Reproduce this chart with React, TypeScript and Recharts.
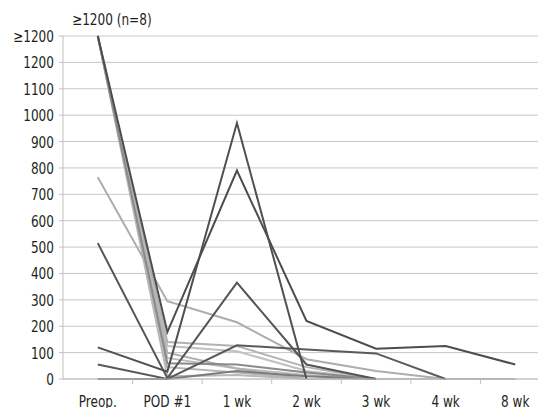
import React from 'react';
import { LineChart, Line, XAxis, YAxis, CartesianGrid } from 'recharts';

const categories = ['Preop.', 'POD #1', '1 wk', '2 wk', '3 wk', '4 wk', '8 wk'];
const yTicks = [0, 100, 200, 300, 400, 500, 600, 700, 800, 900, 1000, 1100, 1200, 1300];

// 1300 on the axis stands for the "≥1200" band
const s1 = [1300, 178, 790, 220, 115, 125, 55];
const s2 = [120, 28, 970, 0, null, null, null];
const s3 = [515, 3, 365, 55, 0, null, null];
const s4 = [765, 295, 215, 75, 30, 0, 0];
const s5 = [1300, 140, 125, 45, 0, null, null];
const s6 = [1300, 125, 105, 30, 0, null, null];
const s7 = [1300, 100, 40, 0, null, null, null];
const s8 = [55, 0, 128, 112, 97, 0, null];
const s9 = [1300, 60, 55, 25, 0, null, null];
const s10 = [1300, 45, 25, 0, null, null, null];
const s11 = [1300, 10, 15, 0, 0, 0, 0];
const s12 = [0, 0, 30, 10, 0, null, null];
const s13 = [1300, 80, 40, 15, 0, null, null];

const seriesList: { key: string; values: (number | null)[]; color: string }[] = [
  { key: 's11', values: s11, color: '#b8b8b8' },
  { key: 's10', values: s10, color: '#b4b4b4' },
  { key: 's13', values: s13, color: '#bdbdbd' },
  { key: 's7', values: s7, color: '#b0b0b0' },
  { key: 's6', values: s6, color: '#c0c0c0' },
  { key: 's5', values: s5, color: '#b2b2b2' },
  { key: 's4', values: s4, color: '#adadad' },
  { key: 's12', values: s12, color: '#7c7c7c' },
  { key: 's9', values: s9, color: '#8a8a8a' },
  { key: 's8', values: s8, color: '#5a5a5a' },
  { key: 's3', values: s3, color: '#555555' },
  { key: 's2', values: s2, color: '#505050' },
  { key: 's1', values: s1, color: '#4d4d4d' },
];

const data = categories.map((label, i) => {
  const row: Record<string, any> = { pos: i + 0.5, label };
  seriesList.forEach((s) => {
    row[s.key] = s.values[i];
  });
  return row;
});

const xTicks: number[] = [];
for (let i = 0; i <= categories.length * 2; i++) xTicks.push(i / 2);

const FONT = "'DejaVu Sans Condensed', 'DejaVu Sans', sans-serif";
const FS = 16;
const SX = 0.84;
const TEXT = '#231f20';

const XTick = (props: any) => {
  const { x, y, payload } = props;
  const v = payload.value as number;
  if (Number.isInteger(v)) {
    if (v === 0 || v === categories.length) return <g />;
    return <line x1={x} x2={x} y1={y} y2={y + 5} stroke="#c0c0c0" strokeWidth={1} />;
  }
  return (
    <text
      transform={`translate(${x},${y + 28}) scale(${SX},1)`}
      textAnchor="middle"
      fontFamily={FONT}
      fontSize={FS}
      fill={TEXT}
    >
      {categories[Math.floor(v)]}
    </text>
  );
};

const YTick = (props: any) => {
  const { x, y, payload } = props;
  const v = payload.value as number;
  return (
    <text
      transform={`translate(${x},${y + 6}) scale(${SX},1)`}
      textAnchor="end"
      fontFamily={FONT}
      fontSize={FS}
      fill={TEXT}
    >
      {v === 1300 ? '≥1200' : String(v)}
    </text>
  );
};

export default function App() {
  return (
    <div style={{ position: 'relative', width: 538, height: 408, overflow: 'hidden', marginBottom: -8 }}>
      <div
        style={{
          position: 'absolute',
          left: 64,
          top: 2,
          fontFamily: FONT,
          fontSize: FS,
          lineHeight: '20px',
          color: TEXT,
          whiteSpace: 'nowrap',
          transform: `scaleX(${SX})`,
          transformOrigin: 'left center',
        }}
      >
        ≥1200 (n=8)
      </div>
      <LineChart width={545} height={408} data={data} margin={{ top: 28, right: 3, bottom: 0, left: 0 }}>
        <CartesianGrid vertical={false} stroke="#c6c6c6" strokeWidth={1} />
        <XAxis
          dataKey="pos"
          type="number"
          domain={[0, categories.length]}
          ticks={xTicks}
          interval={0}
          height={37}
          tickLine={false}
          tickSize={0}
          tickMargin={0}
          axisLine={{ stroke: '#c0c0c0' }}
          tick={<XTick />}
        />
        <YAxis
          type="number"
          domain={[0, 1300]}
          ticks={yTicks}
          interval={0}
          width={55}
          tickSize={4}
          tickMargin={5}
          axisLine={{ stroke: '#c0c0c0' }}
          tickLine={{ stroke: '#c0c0c0' }}
          tick={<YTick />}
        />
        {seriesList.map((s) => (
          <Line
            key={s.key}
            dataKey={s.key}
            stroke={s.color}
            strokeWidth={2}
            dot={false}
            activeDot={false}
            isAnimationActive={false}
            connectNulls={false}
          />
        ))}
      </LineChart>
    </div>
  );
}
